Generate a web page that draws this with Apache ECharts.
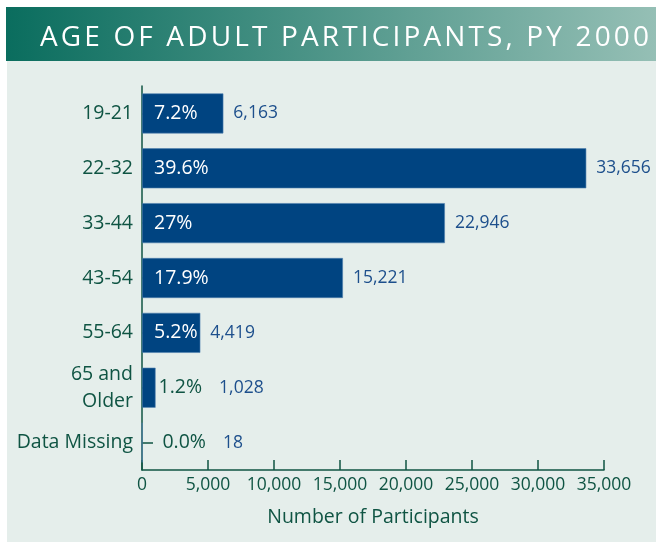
<!DOCTYPE html>
<html>
<head>
<meta charset="utf-8">
<script src="https://cdn.jsdelivr.net/npm/echarts@6/dist/echarts.min.js"></script>
<style>
  html, body { margin: 0; padding: 0; background: #ffffff; }
  #chart { width: 656px; height: 542px; }
</style>
</head>
<body>
<div id="chart"></div>
<script>
// Age groups of adult participants, program year 2000
const categories = ['19-21', '22-32', '33-44', '43-54', '55-64', '65 and\nOlder', 'Data Missing'];
const participants = [6163, 33656, 22946, 15221, 4419, 1028, 18];
const percents = ['7.2%', '39.6%', '27%', '17.9%', '5.2%', '1.2%', '0.0%'];
const xTicks = [0, 5000, 10000, 15000, 20000, 25000, 30000, 35000];
const titleText = 'AGE OF ADULT PARTICIPANTS, PY 2000';

const FONT = '"Open Sans", "Noto Sans", sans-serif';
const GREEN_TEXT = '#0f5443';
const BAR_BLUE = '#004481';
const VALUE_BLUE = '#1d4f8c';
const fmt = v => v.toLocaleString('en-US');

// bars too short to hold their percentage get it printed outside, before the count
const INSIDE_MIN = 3000;

const valueData = participants.map((v, i) => {
  if (v >= INSIDE_MIN) {
    return { value: v };
  }
  return {
    value: v,
    label: {
      formatter: '{p|' + percents[i] + '}{v|' + fmt(v) + '}',
      distance: i === participants.length - 1 ? 20 : 3
    }
  };
});

const pctData = participants.map((v, i) => ({
  value: v,
  label: { show: v >= INSIDE_MIN, formatter: percents[i] }
}));

// banner heading, set with wide tracking (one text element per glyph)
function trackedTitle(text, font, left, right, cy) {
  const ctx = document.createElement('canvas').getContext('2d');
  ctx.font = font;
  const widths = Array.from(text).map(ch => ctx.measureText(ch).width);
  const natural = widths.reduce((a, b) => a + b, 0);
  const gap = (right - left - natural) / (widths.length - 1);
  let x = left;
  const children = [];
  Array.from(text).forEach((ch, i) => {
    children.push({
      type: 'text', silent: true,
      x: x, y: cy,
      style: { text: ch, fill: '#ffffff', font: font, align: 'left', verticalAlign: 'middle' }
    });
    x += widths[i] + gap;
  });
  return { type: 'group', z: 10, silent: true, children: children };
}

const TITLE_FONT = '28px ' + FONT;

const chart = echarts.init(document.getElementById('chart'), null, { renderer: 'canvas' });

chart.setOption({
  animation: false,
  backgroundColor: '#ffffff',
  graphic: [
    {
      type: 'rect', z: -10, silent: true,
      shape: { x: 7, y: 61, width: 649, height: 481 },
      style: { fill: '#e5eeeb' }
    },
    {
      type: 'rect', z: -9, silent: true,
      shape: { x: 6, y: 7, width: 650, height: 54 },
      style: {
        fill: new echarts.graphic.LinearGradient(0, 0, 1, 0, [
          { offset: 0, color: '#0a6d5e' },
          { offset: 1, color: '#95bfb5' }
        ])
      }
    },
    trackedTitle(titleText, TITLE_FONT, 40, 649, 38)
  ],
  grid: { left: 142, right: 52, top: 86, bottom: 72, containLabel: false },
  xAxis: {
    type: 'value',
    min: 0, max: 35000, interval: 5000,
    name: 'Number of Participants',
    nameLocation: 'middle',
    nameGap: 37,
    nameTextStyle: { color: GREEN_TEXT, fontSize: 19.5, fontFamily: FONT },
    axisLine: { show: true, lineStyle: { color: GREEN_TEXT, width: 1.5 } },
    axisTick: { show: true, inside: true, length: 10, lineStyle: { color: GREEN_TEXT, width: 1.5 } },
    axisLabel: {
      color: GREEN_TEXT, fontSize: 17.5, fontFamily: FONT, margin: 6,
      formatter: v => xTicks.includes(v) ? fmt(v) : ''
    },
    splitLine: { show: false }
  },
  yAxis: {
    type: 'category',
    inverse: true,
    data: categories,
    axisLine: { show: true, lineStyle: { color: GREEN_TEXT, width: 1.5 } },
    axisTick: { show: true, inside: true, alignWithLabel: true, length: 11, lineStyle: { color: GREEN_TEXT, width: 1.5 } },
    axisLabel: {
      color: GREEN_TEXT, fontSize: 19.5, fontFamily: FONT, margin: 9, lineHeight: 27
    }
  },
  series: [
    {
      type: 'bar',
      data: valueData,
      barWidth: 40,
      z: 3,
      itemStyle: { color: BAR_BLUE, borderColor: '#4f7fae', borderWidth: 0.6 },
      label: {
        show: true,
        position: 'right',
        distance: 10,
        color: VALUE_BLUE,
        fontSize: 17.5,
        fontFamily: FONT,
        formatter: p => fmt(p.value),
        rich: {
          p: { color: GREEN_TEXT, fontSize: 19.5, fontFamily: FONT },
          v: { color: VALUE_BLUE, fontSize: 17.5, fontFamily: FONT, padding: [0, 0, 0, 17] }
        }
      }
    },
    {
      type: 'bar',
      data: pctData,
      barWidth: 40,
      barGap: '-100%',
      z: 4,
      itemStyle: { color: 'rgba(0,0,0,0)' },
      label: {
        show: true,
        position: 'insideLeft',
        distance: 12,
        color: '#ffffff',
        fontSize: 19.5,
        fontFamily: FONT
      }
    }
  ]
});
</script>
</body>
</html>
